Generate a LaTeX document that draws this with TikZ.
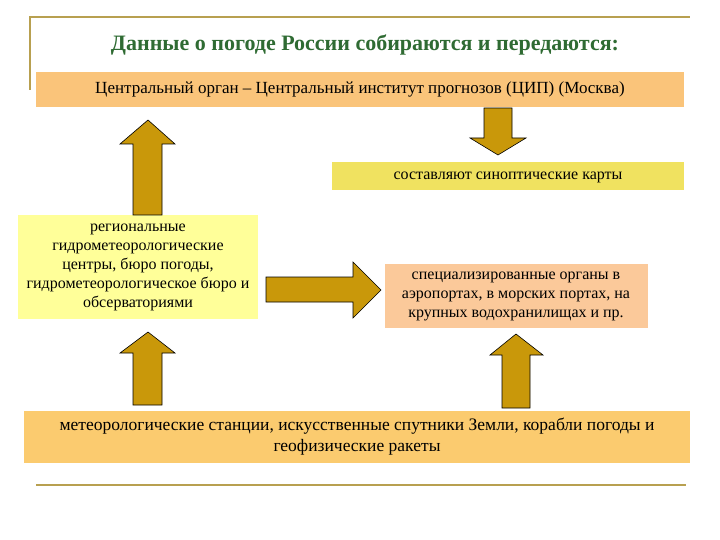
\documentclass[tikz,border=0pt]{standalone}
\usepackage{fontspec}
\setmainfont{Liberation Serif}
\definecolor{gold}{HTML}{C9980A}
\definecolor{lineol}{HTML}{B8A050}
\definecolor{ttl}{HTML}{2F6B33}
\begin{document}
\begin{tikzpicture}[x=1pt,y=-1pt,
 box/.style={inner sep=0pt,align=center,font=\fontsize{16}{19}\selectfont},
 blk/.style={fill=gold,draw=black,line width=0.6pt}]
\useasboundingbox (0,0) rectangle (720,540);
\draw[lineol,line width=1.2pt] (30,90) -- (30,17) -- (690,17);
\node[font=\fontsize{22}{26}\bfseries\selectfont,text=ttl] (t) at (365,45) {Данные о погоде России собираются и передаются:};
\fill[fill={rgb,255:red,250;green,196;blue,122}] (36,72) rectangle (684,107);
\node[box,font=\fontsize{17}{20}\selectfont] (a) at (360,89) {Центральный орган – Центральный институт прогнозов (ЦИП) (Москва)};
\fill[fill={rgb,255:red,240;green,226;blue,96}] (332,162) rectangle (684,190);
\node[box] (b) at (508,177) {составляют синоптические карты};
\fill[fill={rgb,255:red,255;green,255;blue,153}] (18,215) rectangle (258,319);
\node[box] (c) at (138,267) {региональные\\гидрометеорологические\\центры, бюро погоды,\\гидрометеорологическое бюро и\\обсерваториями};
\fill[fill={rgb,255:red,251;green,201;blue,154}] (385,264) rectangle (648,328);
\node[box] (d) at (516,296) {специализированные органы в\\аэропортах, в морских портах, на\\крупных водохранилищах и пр.};
\fill[fill={rgb,255:red,251;green,203;blue,111}] (24,411) rectangle (690,463);
\node[box,font=\fontsize{17.5}{21}\selectfont] (e) at (357,437) {метеорологические станции, искусственные спутники Земли, корабли погоды и\\геофизические ракеты};
\draw[lineol,line width=2pt] (36,485) -- (686,485);
% arrows
\draw[blk] (148,120) -- (175,144) -- (162,144) -- (162,215) -- (133,215) -- (133,144) -- (120,144) -- cycle;
\draw[blk] (498,155) -- (526,138) -- (512,138) -- (512,108) -- (484,108) -- (484,138) -- (470,138) -- cycle;
\draw[blk] (381,290) -- (353,262) -- (353,277) -- (266,277) -- (266,302) -- (353,302) -- (353,318) -- cycle;
\draw[blk] (148,332) -- (175,353) -- (162,353) -- (162,405) -- (133,405) -- (133,353) -- (120,353) -- cycle;
\draw[blk] (516,334) -- (543,355) -- (530,355) -- (530,408) -- (502,408) -- (502,355) -- (490,355) -- cycle;
\end{tikzpicture}
\end{document}
